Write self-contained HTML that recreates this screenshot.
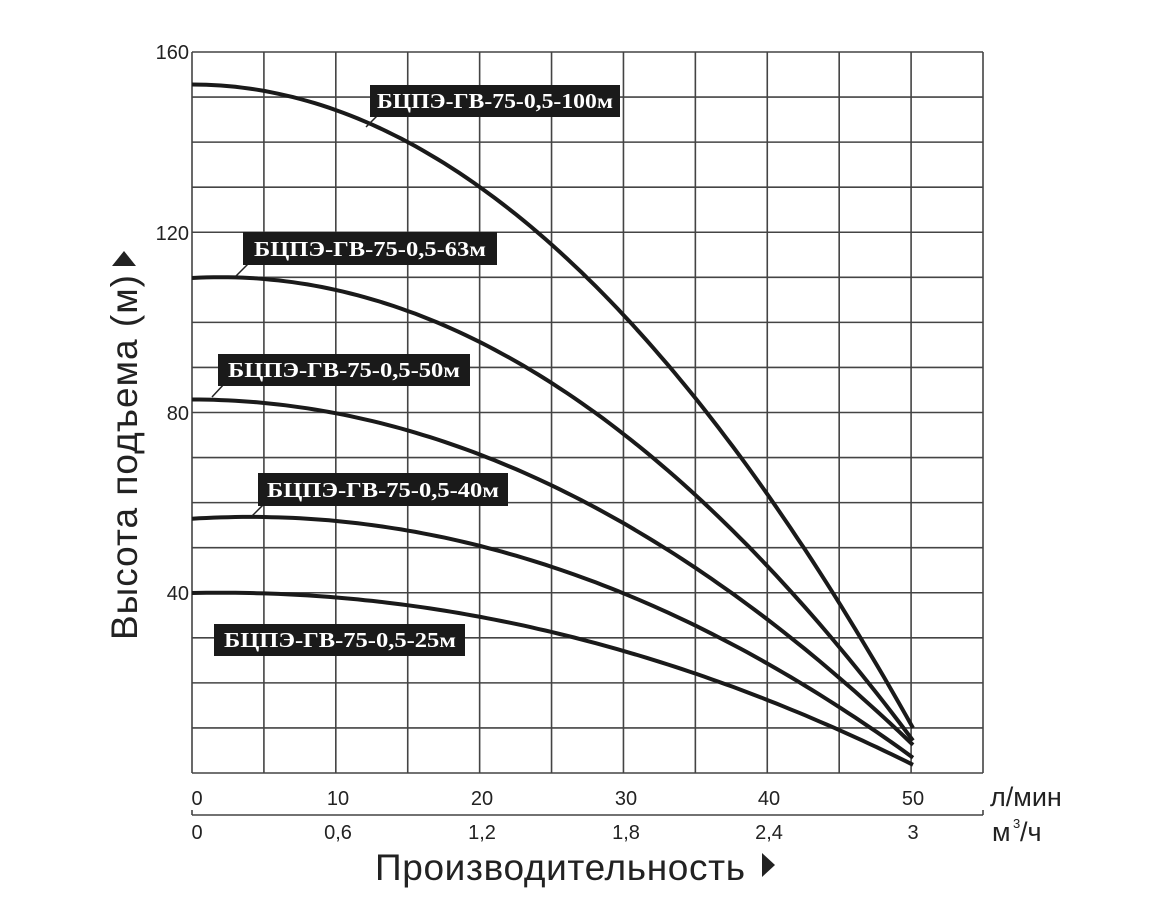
<!DOCTYPE html>
<html><head><meta charset="utf-8"><style>
body{margin:0;background:#fff;}
svg text{font-family:"Liberation Sans",sans-serif;fill:#222;}
.lb{font-family:"Liberation Serif",serif;font-weight:bold;font-size:21px;fill:#fff;}
</style></head><body>
<svg id="s" width="1162" height="900" xmlns="http://www.w3.org/2000/svg">
<g id="grid" stroke="#444" stroke-width="1.6" fill="none"></g>
<g id="curves" stroke="#1a1a1a" stroke-width="4" fill="none"></g>
<g font-size="20">
<text x="189" y="59" text-anchor="end">160</text>
<text x="189" y="240" text-anchor="end">120</text>
<text x="189" y="420" text-anchor="end">80</text>
<text x="189" y="600" text-anchor="end">40</text>
<text x="197" y="805" text-anchor="middle">0</text>
<text x="338" y="805" text-anchor="middle">10</text>
<text x="482" y="805" text-anchor="middle">20</text>
<text x="626" y="805" text-anchor="middle">30</text>
<text x="769" y="805" text-anchor="middle">40</text>
<text x="913" y="805" text-anchor="middle">50</text>
<text x="197" y="839" text-anchor="middle">0</text>
<text x="338" y="839" text-anchor="middle">0,6</text>
<text x="482" y="839" text-anchor="middle">1,2</text>
<text x="626" y="839" text-anchor="middle">1,8</text>
<text x="769" y="839" text-anchor="middle">2,4</text>
<text x="913" y="839" text-anchor="middle">3</text>
</g>
<text x="990" y="806" font-size="27">л/мин</text>
<text x="992" y="841" font-size="27">м</text><text x="1013" y="828" font-size="13">3</text><text x="1020" y="841" font-size="27">/ч</text>
<path d="M192 815 H983 M192 810 V815 M983 810 V815" stroke="#444" stroke-width="1.6" fill="none"/>
<text x="375" y="880" font-size="37" textLength="370">Производительность</text>
<polygon points="762,853 762,877 775,865" fill="#222"/>
<text transform="translate(137,640) rotate(-90)" font-size="37" textLength="365">Высота подъема (м)</text>
<polygon points="112,266 136,266 124,251" fill="#222"/>
<g stroke="#222" stroke-width="1.5">
<line x1="378" y1="115" x2="366" y2="127"/>
<line x1="250" y1="262" x2="236" y2="276"/>
<line x1="225" y1="383" x2="212" y2="397"/>
<line x1="265" y1="503" x2="252" y2="516"/>
</g>
<g fill="#1a1a1a">
<rect x="370" y="85" width="250" height="32"/>
<rect x="243" y="232" width="254" height="33"/>
<rect x="218" y="354" width="252" height="32"/>
<rect x="258" y="473" width="250" height="33"/>
<rect x="214" y="624" width="251" height="32"/>
</g>
<text class="lb" x="495" y="108" text-anchor="middle" textLength="236" lengthAdjust="spacingAndGlyphs">БЦПЭ-ГВ-75-0,5-100м</text>
<text class="lb" x="370" y="256" text-anchor="middle" textLength="232" lengthAdjust="spacingAndGlyphs">БЦПЭ-ГВ-75-0,5-63м</text>
<text class="lb" x="344" y="377" text-anchor="middle" textLength="232" lengthAdjust="spacingAndGlyphs">БЦПЭ-ГВ-75-0,5-50м</text>
<text class="lb" x="383" y="497" text-anchor="middle" textLength="232" lengthAdjust="spacingAndGlyphs">БЦПЭ-ГВ-75-0,5-40м</text>
<text class="lb" x="340" y="647" text-anchor="middle" textLength="232" lengthAdjust="spacingAndGlyphs">БЦПЭ-ГВ-75-0,5-25м</text>
</svg>
<script>
var ns="http://www.w3.org/2000/svg";
var X0=192,X1=983,Y0=52,Y1=773;
var g=document.getElementById("grid"),d="";
for(var i=0;i<=11;i++){var x=X0+(X1-X0)*i/11;d+="M"+x+" "+Y0+"V"+Y1;}
for(var j=0;j<=16;j++){var y=Y0+(Y1-Y0)*j/16;d+="M"+X0+" "+y+"H"+X1;}
var p=document.createElementNS(ns,"path");p.setAttribute("d",d);g.appendChild(p);
function px(q){return X0+q*(913-X0)/50;}
function py(h){return Y1-h*4.5;}
var cs=[[153,0,0.0572],[110,0.179,0.0447],[83,0,0.0307],[56.5,0.203,0.0253],[40,0.0664,0.0166]];
var c=document.getElementById("curves");
cs.forEach(function(k){var s="";for(var q=0;q<=50;q+=0.5){var h=k[0]+k[1]*q-k[2]*q*q;s+=(q?"L":"M")+px(q).toFixed(1)+" "+py(h).toFixed(1);}
var e=document.createElementNS(ns,"path");e.setAttribute("d",s);c.appendChild(e);});
</script>
</body></html>
